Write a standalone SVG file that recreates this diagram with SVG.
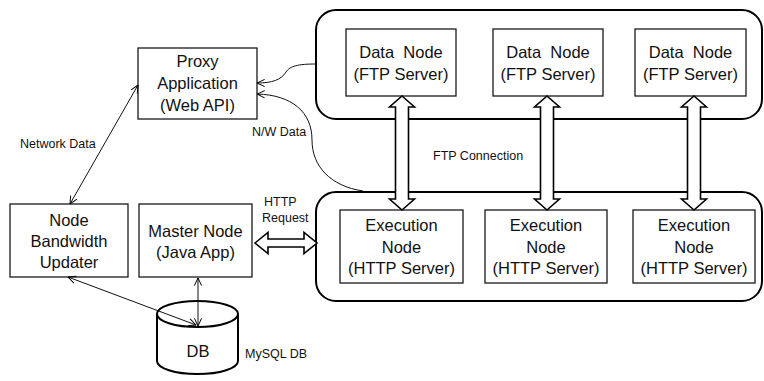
<svg xmlns="http://www.w3.org/2000/svg" width="764" height="381" viewBox="0 0 764 381">
<defs>
<marker id="arr" viewBox="0 0 10 10" refX="9.5" refY="5" markerWidth="9" markerHeight="9" markerUnits="userSpaceOnUse" orient="auto-start-reverse">
<path d="M1,1 L9.5,5 L1,9" fill="none" stroke="#000" stroke-width="1.1"/>
</marker>
<style>
.box{fill:#fff;stroke:#1a1a1a;stroke-width:1.3}
.cont{fill:#fff;stroke:#000;stroke-width:2}
.t{font-family:"Liberation Sans",Arial,sans-serif;font-size:16.5px;fill:#111;text-anchor:middle}
.s{font-family:"Liberation Sans",Arial,sans-serif;font-size:12.5px;fill:#111}
.ln{fill:none;stroke:#111;stroke-width:1}
.ha{fill:#fff;stroke:#000;stroke-width:1.6;stroke-linejoin:miter}
</style>
</defs>
<rect width="764" height="381" fill="#fff"/>

<g id="data-cluster">
<rect class="cont" x="316" y="10" width="446" height="109" rx="20"/>
</g>
<g id="exec-cluster">
<rect class="cont" x="316" y="192" width="446" height="109" rx="20"/>
</g>

<g id="proxy">
<rect class="box" x="138" y="48" width="119" height="71"/>
<text class="t" x="197.5" y="67">Proxy</text>
<text class="t" x="197.5" y="89">Application</text>
<text class="t" x="197.5" y="111">(Web API)</text>
</g>

<g id="data1">
<rect class="box" x="346" y="29" width="110" height="67"/>
<text class="t" x="401" y="58" xml:space="preserve">Data  Node</text>
<text class="t" x="401" y="80">(FTP Server)</text>
</g>
<g id="data2">
<rect class="box" x="493" y="29" width="110" height="67"/>
<text class="t" x="548" y="58" xml:space="preserve">Data  Node</text>
<text class="t" x="548" y="80">(FTP Server)</text>
</g>
<g id="data3">
<rect class="box" x="635" y="29" width="111" height="67"/>
<text class="t" x="690.5" y="58" xml:space="preserve">Data  Node</text>
<text class="t" x="690.5" y="80">(FTP Server)</text>
</g>

<g id="exec1">
<rect class="box" x="340" y="210" width="123" height="73"/>
<text class="t" x="401.5" y="231">Execution</text>
<text class="t" x="401.5" y="253">Node</text>
<text class="t" x="401.5" y="274">(HTTP Server)</text>
</g>
<g id="exec2">
<rect class="box" x="485" y="210" width="122" height="73"/>
<text class="t" x="546" y="231">Execution</text>
<text class="t" x="546" y="253">Node</text>
<text class="t" x="546" y="274">(HTTP Server)</text>
</g>
<g id="exec3">
<rect class="box" x="633" y="210" width="122" height="73"/>
<text class="t" x="694" y="231">Execution</text>
<text class="t" x="694" y="253">Node</text>
<text class="t" x="694" y="274">(HTTP Server)</text>
</g>

<g id="master">
<rect class="box" x="139" y="204" width="113" height="73"/>
<text class="t" x="195.5" y="237">Master Node</text>
<text class="t" x="195.5" y="258">(Java App)</text>
</g>

<g id="updater">
<rect class="box" x="10" y="204" width="118" height="73"/>
<text class="t" x="69" y="226">Node</text>
<text class="t" x="69" y="247">Bandwidth</text>
<text class="t" x="69" y="268">Updater</text>
</g>

<g id="db">
<path d="M157,314 L157,361 A40.5,13 0 0 0 238,361 L238,314" fill="#fff" stroke="#000" stroke-width="2"/>
<ellipse cx="197.5" cy="314" rx="40.5" ry="13" fill="#fff" stroke="#000" stroke-width="2"/>
<text class="t" x="198" y="357">DB</text>
<text class="s" x="245" y="358">MySQL DB</text>
</g>

<g id="connectors">
<polygon class="ha" points="402,96 414.5,107 408.5,107 408.5,199 414.5,199 402,210 389.5,199 395.5,199 395.5,107 389.5,107"/>
<polygon class="ha" points="547,96 559.5,107 553.5,107 553.5,199 559.5,199 547,210 534.5,199 540.5,199 540.5,107 534.5,107"/>
<polygon class="ha" points="694,96 706.5,107 700.5,107 700.5,199 706.5,199 694,210 681.5,199 687.5,199 687.5,107 681.5,107"/>
<polygon class="ha" points="255,243 268,232.5 268,239 304,239 304,232.5 317,243 304,253.5 304,247 268,247 268,253.5"/>
<line class="ln" x1="70" y1="204" x2="138" y2="85" marker-start="url(#arr)" marker-end="url(#arr)"/>
<path class="ln" d="M316,64 C298,64 290,66 286,72 C281,80 272,83 257,83" marker-end="url(#arr)"/>
<path class="ln" d="M363,191 C330,186 312,166 312,140 C312,112 292,95 257,94" marker-end="url(#arr)"/>
<line class="ln" x1="68" y1="277" x2="196" y2="325" marker-start="url(#arr)" marker-end="url(#arr)"/>
<line class="ln" x1="198" y1="278" x2="198" y2="326" marker-start="url(#arr)" marker-end="url(#arr)"/>
<text class="s" x="20" y="148">Network Data</text>
<text class="s" x="252" y="136">N/W Data</text>
<text class="s" x="433" y="160">FTP Connection</text>
<text class="s" x="264" y="206">HTTP</text>
<text class="s" x="262" y="222">Request</text>
</g>
</svg>
